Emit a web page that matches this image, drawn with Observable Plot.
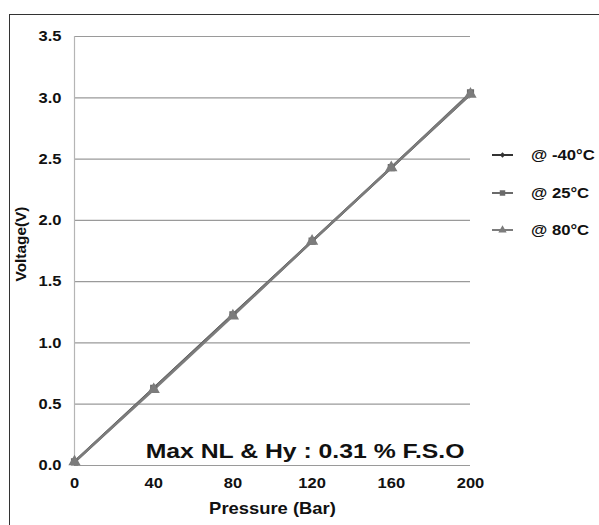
<!DOCTYPE html>
<html>
<head>
<meta charset="utf-8">
<script src="https://cdn.jsdelivr.net/npm/d3@7"></script>
<script src="https://cdn.jsdelivr.net/npm/@observablehq/plot@0.6"></script>
<style>
  html, body { margin: 0; padding: 0; background: #fff; }
  #wrap { position: relative; width: 599px; height: 525px; overflow: hidden; font-family: "Liberation Sans", Arial, sans-serif; }
  #border { position: absolute; left: 9px; top: 14px; width: 600px; height: 530px; border: 1.5px solid #333; box-sizing: border-box; pointer-events: none; }
  #legend { position: absolute; left: 490px; top: 143px; font-weight: bold; font-size: 14.5px; color: #111; }
  .row { display: flex; align-items: center; height: 24px; margin-bottom: 13.5px; }
  .row svg { margin-right: 17px; }
  .row span { display: inline-block; transform: scaleX(1.15); transform-origin: left center; white-space: nowrap; }
</style>
</head>
<body>
<div id="wrap">
  <div id="chart"></div>
  <div id="legend"></div>
  <div id="border"></div>
</div>
<script>
const pressure = [0, 40, 80, 120, 160, 200];
const seriesNames = ["@ -40°C", "@ 25°C", "@ 80°C"];
const voltMinus40 = [0.03, 0.63, 1.23, 1.83, 2.43, 3.03];
const volt25 = [0.03, 0.63, 1.23, 1.83, 2.43, 3.04];
const volt80 = [0.03, 0.62, 1.22, 1.83, 2.43, 3.03];
const yTicks = [0, 0.5, 1.0, 1.5, 2.0, 2.5, 3.0, 3.5];
const xTicks = [0, 40, 80, 120, 160, 200];
const xTitle = "Pressure (Bar)";
const yTitle = "Voltage(V)";
const annotation = "Max NL & Hy : 0.31 % F.S.O";

const colors = ["#333333", "#6a6a6a", "#7c7c7c"];
const symbols = ["diamond2", "square", "triangle"];
const sizes = [2.2, 3.2, 3.6];

const allSeries = [voltMinus40, volt25, volt80];
const data = [];
allSeries.forEach((vals, si) => vals.forEach((v, i) => data.push({series: seriesNames[si], x: pressure[i], y: v})));

const chart = Plot.plot({
  width: 599,
  height: 525,
  marginLeft: 74,
  marginRight: 129,
  marginTop: 36,
  marginBottom: 60,
  style: {fontFamily: "'Liberation Sans', Arial, sans-serif", background: "transparent"},
  x: {domain: [0, 200], ticks: xTicks, tickSize: 0, tickPadding: 12, label: null},
  y: {domain: [0, 3.5], ticks: yTicks, tickSize: 0, tickPadding: 13, tickFormat: d3.format(".1f"), label: null},
  marks: [
    Plot.ruleY(yTicks, {stroke: "#9a9a9a", strokeWidth: 1.2}),
    Plot.ruleX([0], {stroke: "#b5b5b5", strokeWidth: 1.2}),
    Plot.axisY({ticks: yTicks, tickSize: 0, tickPadding: 13, tickFormat: d3.format(".1f"), fontSize: 15, fontWeight: "bold", fill: "#111", label: null}),
    Plot.axisX({ticks: xTicks, tickSize: 0, tickPadding: 12, fontSize: 15, fontWeight: "bold", fill: "#111", label: null}),
    Plot.text([xTitle], {frameAnchor: "bottom", lineAnchor: "middle", textAnchor: "middle", dy: 43, fontSize: 16, fontWeight: "bold", fill: "#111"}),
    Plot.text([yTitle], {frameAnchor: "left", textAnchor: "middle", lineAnchor: "middle", dx: -53, dy: -7, rotate: -90, fontSize: 14.5, fontWeight: "bold", fill: "#111"}),
    ...seriesNames.map((s, i) => Plot.line(data.filter(d => d.series === s), {x: "x", y: "y", stroke: colors[i], strokeWidth: 2.4})),
    ...seriesNames.map((s, i) => Plot.dot(data.filter(d => d.series === s), {x: "x", y: "y", fill: colors[i], stroke: colors[i], symbol: symbols[i], r: sizes[i]})),
    Plot.text([annotation], {frameAnchor: "bottom-right", dx: -6, dy: -8, lineAnchor: "bottom", textAnchor: "end", fontSize: 21, fontWeight: "bold", fill: "#111"})
  ]
});
document.getElementById("chart").appendChild(chart);

// widen the glyphs horizontally to mimic the stretched bold face of the original
d3.select(chart).selectAll("text").each(function() {
  const t = this.textContent;
  let s = 1.1;
  if (t === annotation) s = 1.18;
  else if (t === xTitle) s = 1.15;
  else if (t === yTitle) s = 1.06;
  const tr = this.getAttribute("transform");
  if (tr) {
    this.setAttribute("transform", tr + ` scale(${s},1)`);
  } else {
    const x = +this.getAttribute("x") || 0;
    const y = +this.getAttribute("y") || 0;
    this.setAttribute("transform", `translate(${x},${y}) scale(${s},1)`);
    this.setAttribute("x", 0);
    this.setAttribute("y", 0);
  }
});

// legend
const legend = d3.select("#legend");
seriesNames.forEach((s, i) => {
  const row = legend.append("div").attr("class", "row");
  const svg = row.append("svg").attr("width", 24).attr("height", 12);
  svg.append("line").attr("x1", 2).attr("x2", 23).attr("y1", 6).attr("y2", 6).attr("stroke", colors[i]).attr("stroke-width", 2);
  const sym = d3.symbol().type([d3.symbolDiamond2, d3.symbolSquare, d3.symbolTriangle][i]).size([18, 30, 30][i]);
  svg.append("path").attr("d", sym()).attr("transform", "translate(12.5,6)").attr("fill", colors[i]);
  row.append("span").text(s);
});
</script>
</body>
</html>
